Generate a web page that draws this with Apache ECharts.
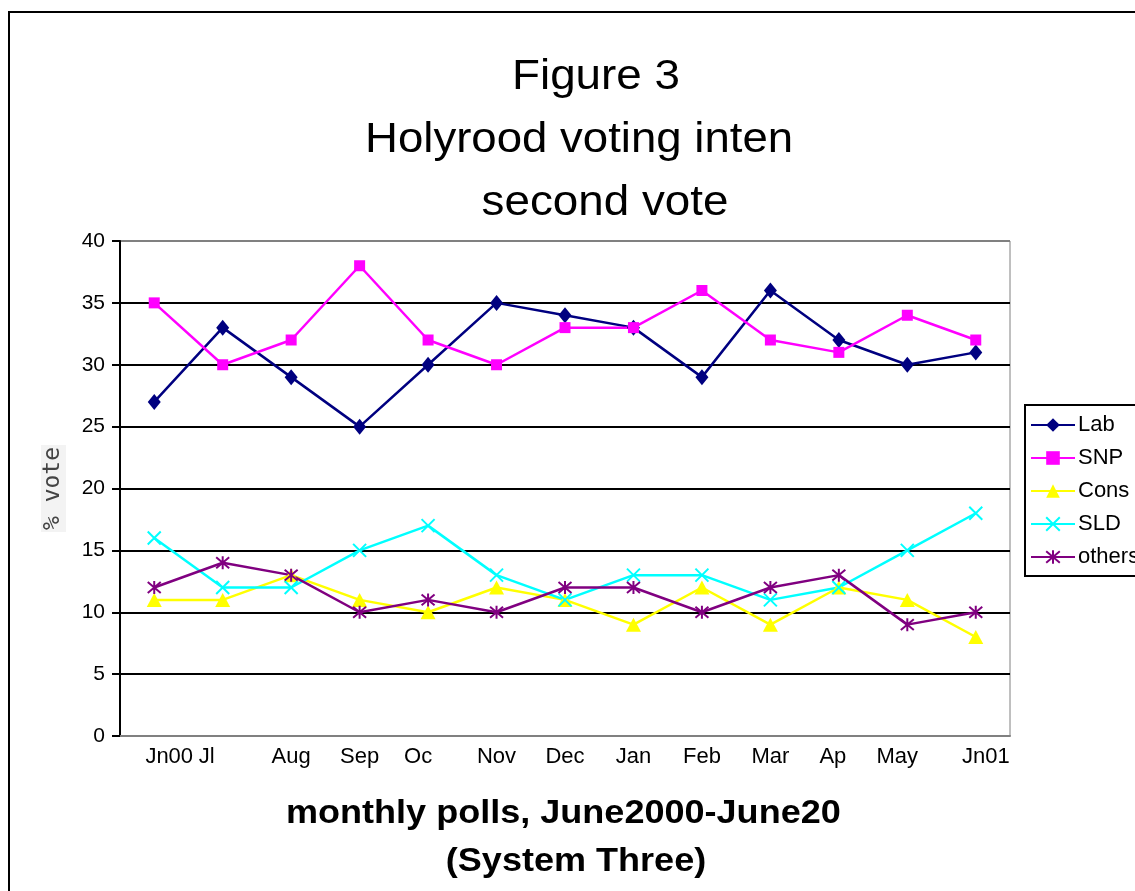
<!DOCTYPE html>
<html>
<head>
<meta charset="utf-8">
<script src="https://cdn.jsdelivr.net/npm/echarts@6/dist/echarts.min.js"></script>
<style>
  html, body { margin: 0; padding: 0; background: #fff; }
  #chart { width: 1135px; height: 891px; }
</style>
</head>
<body>
<div id="chart"></div>
<script>
  // monthly polls, June 2000 - June 2001 (labels clipped as in the original)
  const months = ["Jn00", "Jl", "Aug", "Sep", "Oc", "Nov", "Dec", "Jan", "Feb", "Mar", "Ap", "May", "Jn01"]
  const lab = [27, 33, 29, 25, 30, 35, 34, 33, 29, 36, 32, 30, 31]
  const snp = [35, 30, 32, 38, 32, 30, 33, 33, 36, 32, 31, 34, 32]
  const cons = [11, 11, 13, 11, 10, 12, 11, 9, 12, 9, 12, 11, 8]
  const sld = [16, 12, 12, 15, 17, 13, 11, 13, 13, 11, 12, 15, 18]
  const others = [12, 14, 13, 10, 11, 10, 12, 12, 10, 12, 13, 9, 10]

  // horizontal nudge of some month labels (px), as the original places them
  const labelShift = [15, -16, 0, 0, -10, 0, 0, 0, 0, 0, -6, -10, 10]

  const font = "'Liberation Sans', Arial, sans-serif"
  const xPath = "path://M0 0 L10 10 M10 0 L0 10"
  const starPath = "path://M0 0 L10 10 M10 0 L0 10 M5 -1 L5 11"

  const monthData = months.map((m, i) => {
    const s = labelShift[i]
    return {
      value: m,
      textStyle: { padding: s >= 0 ? [0, 0, 0, 2 * s] : [0, -2 * s, 0, 0] },
    }
  })

  function lineSeries(name, data, color, symbol, size, stroked) {
    return {
      name: name,
      type: "line",
      data: data,
      symbol: symbol,
      symbolSize: size,
      lineStyle: { color: color, width: 2.5 },
      itemStyle: stroked
        ? { color: color, borderColor: color, borderWidth: 2 }
        : { color: color, borderWidth: 0 },
      emphasis: { disabled: true },
      z: 3,
    }
  }

  function label(text, x, y, f, align, sx) {
    return {
      type: "text", x: x, y: y, scaleX: sx,
      style: { text: text, font: f, fill: "#000", align: align, verticalAlign: "middle" },
    }
  }

  const options = {
    animation: false,
    backgroundColor: "#fff",
    textStyle: { fontFamily: font },
    grid: {
      left: 120,
      right: 125,
      top: 241,
      bottom: 155,
      show: true,
      borderColor: "#808080",
      borderWidth: 1,
    },
    legend: {
      left: 1025,
      top: 405,
      orient: "vertical",
      itemWidth: 44,
      itemHeight: 17,
      itemGap: 11,
      padding: [9, 10, 8, 5],
      borderColor: "#000",
      borderWidth: 2,
      textStyle: { fontFamily: font, fontSize: 22, color: "#000", padding: [0, 0, 0, -2] },
      data: ["Lab", "SNP", "Cons", "SLD", "others"],
    },
    xAxis: {
      type: "category",
      data: monthData,
      boundaryGap: true,
      axisLine: { lineStyle: { color: "#808080", width: 2 } },
      axisTick: { show: false },
      axisLabel: { fontSize: 22, color: "#000", margin: 10, interval: 0, fontFamily: font },
      splitLine: { show: false },
    },
    yAxis: {
      type: "value",
      min: 0,
      max: 40,
      interval: 5,
      name: "% vote",
      nameLocation: "middle",
      nameGap: 54,
      nameTextStyle: {
        fontFamily: "'DejaVu Sans Mono', monospace",
        fontSize: 23,
        color: "#444",
        backgroundColor: "#f3f3f3",
        padding: [1, 2, 1, 2],
      },
      axisLine: { show: true, lineStyle: { color: "#000", width: 2 } },
      axisTick: { show: true, inside: false, length: 8, lineStyle: { color: "#000", width: 2 } },
      axisLabel: { fontSize: 21, color: "#000", margin: 15, fontFamily: font },
      splitLine: {
        lineStyle: {
          color: ["#808080", "#000", "#000", "#000", "#000", "#000", "#000", "#000", "#808080"],
          width: 2,
        },
      },
    },
    series: [
      lineSeries("Lab", lab, "#000080", "diamond", [13, 16], false),
      lineSeries("SNP", snp, "#ff00ff", "rect", 11, false),
      lineSeries("Cons", cons, "#ffff00", "triangle", [15, 14], false),
      lineSeries("SLD", sld, "#00ffff", xPath, 13, true),
      lineSeries("others", others, "#800080", starPath, 13, true),
    ],
    graphic: [
      {
        type: "rect",
        shape: { x: 9, y: 12, width: 1300, height: 1000 },
        style: { fill: "none", stroke: "#000", lineWidth: 2 },
        silent: true,
      },
      label("Figure 3", 596, 77, "42px " + font, "center", 1.09),
      label("Holyrood voting inten", 365, 140, "42px " + font, "left", 1.085),
      label("second vote", 605, 203, "42px " + font, "center", 1.09),
      label("monthly polls, June2000-June20", 286, 814, "bold 34px " + font, "left", 1.06),
      label("(System Three)", 576, 862, "bold 34px " + font, "center", 1.06),
    ],
  }

  let dom = document.getElementById("chart")
  let myChart = echarts.init(dom)
  myChart.setOption(options)
  window.addEventListener("resize", () => myChart.resize(), false)
</script>
</body>
</html>
